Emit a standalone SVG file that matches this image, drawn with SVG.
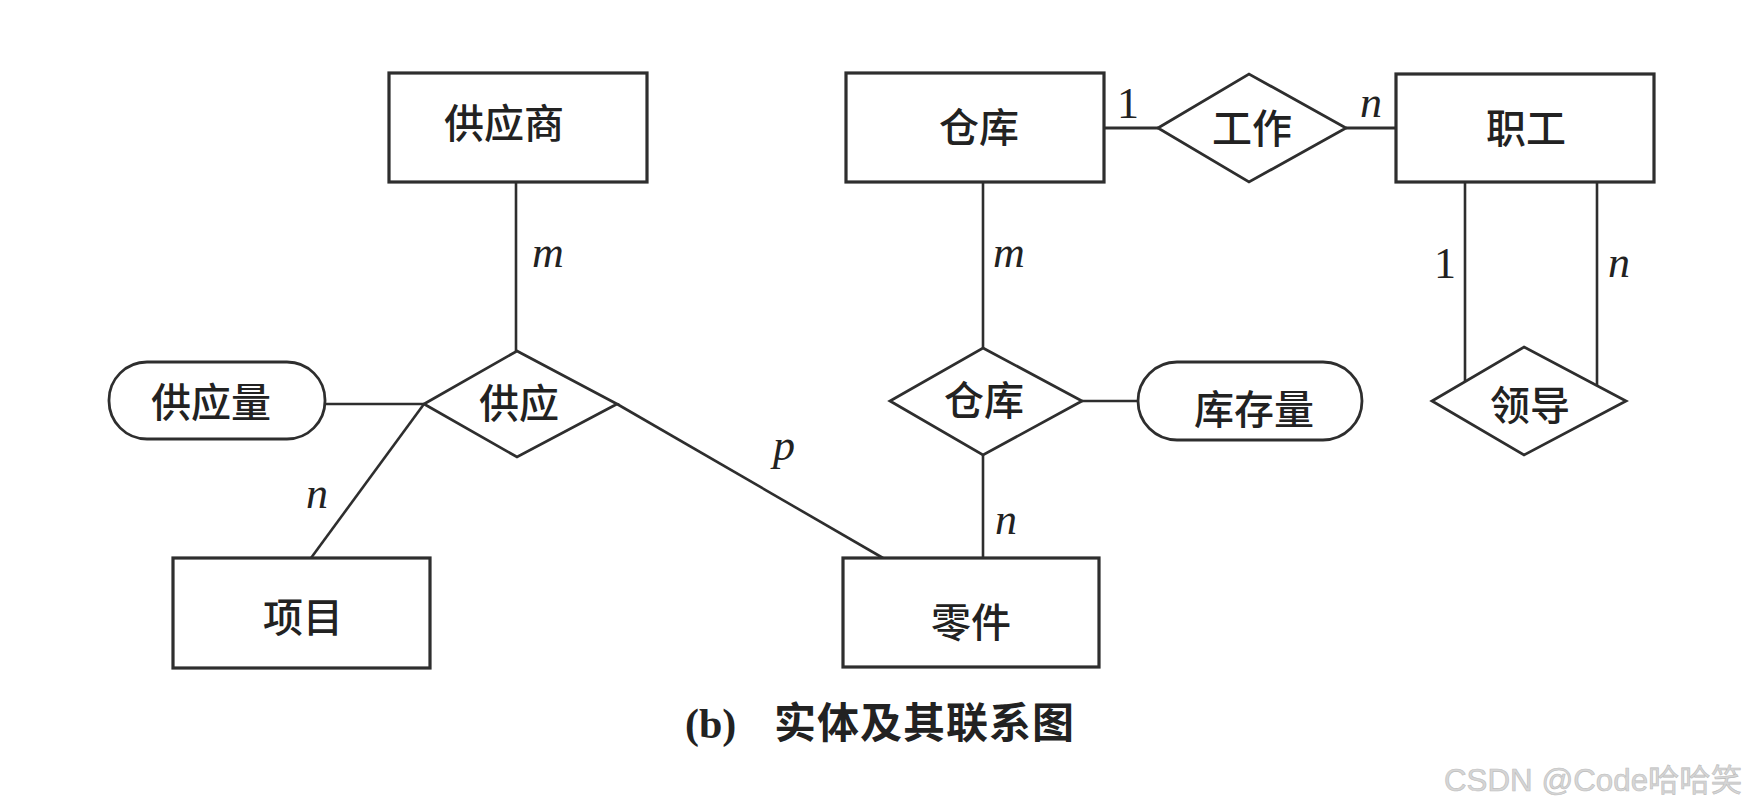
<svg xmlns="http://www.w3.org/2000/svg" width="1746" height="810" viewBox="0 0 1746 810">
<style>
.ent{fill:#fff;stroke:#2e2e2e;stroke-width:3.2}
.rel{fill:#fff;stroke:#2e2e2e;stroke-width:2.8}
.att{fill:#fff;stroke:#2e2e2e;stroke-width:2.8}
.ln{stroke:#2e2e2e;stroke-width:2.6;fill:none}
.lbl{font-family:"Noto Sans CJK SC","Noto Sans",sans-serif;font-size:40px;font-weight:500;fill:#222;text-anchor:middle}
.card{font-family:"Liberation Serif","DejaVu Serif",serif;font-size:44px;fill:#222;text-anchor:middle}
.it{font-style:italic}
.cap{font-family:"Liberation Serif","Noto Sans CJK SC",serif;font-size:42px;font-weight:bold;fill:#222}
.wm{font-family:"Liberation Sans","Noto Sans CJK SC",sans-serif;font-size:31px;fill:#d6d6d6;stroke:#bdbdbd;stroke-width:0.6}
</style>
<rect width="1746" height="810" fill="#fff"/>
<g id="connectors">
<line class="ln" x1="516" y1="182" x2="516" y2="351"/>
<line class="ln" x1="325" y1="404" x2="424" y2="404"/>
<line class="ln" x1="424" y1="404" x2="311" y2="558"/>
<line class="ln" x1="617" y1="404" x2="883" y2="558"/>
<line class="ln" x1="983" y1="182" x2="983" y2="348"/>
<line class="ln" x1="983" y1="455" x2="983" y2="558"/>
<line class="ln" x1="1082" y1="401" x2="1138" y2="401"/>
<line class="ln" x1="1104" y1="128" x2="1158" y2="128" style="stroke-width:3.2"/>
<line class="ln" x1="1346" y1="128" x2="1396" y2="128" style="stroke-width:3.2"/>
<line class="ln" x1="1465" y1="182" x2="1465" y2="381"/>
<line class="ln" x1="1597" y1="182" x2="1597" y2="385"/>
<text class="card it" x="548" y="267">m</text>
<text class="card it" x="1009" y="267">m</text>
<text class="card" x="1128" y="118">1</text>
<text class="card it" x="1371" y="117">n</text>
<text class="card" x="1445" y="278">1</text>
<text class="card it" x="1619" y="277">n</text>
<text class="card it" x="317" y="508">n</text>
<text class="card it" x="784" y="460">p</text>
<text class="card it" x="1006" y="534">n</text>
</g>
<g id="supplier"><rect class="ent" x="389" y="73" width="258" height="109"/><text class="lbl" x="504" y="138">供应商</text></g>
<g id="warehouse"><rect class="ent" x="846" y="73" width="258" height="109"/><text class="lbl" x="979" y="142">仓库</text></g>
<g id="employee"><rect class="ent" x="1396" y="74" width="258" height="108"/><text class="lbl" x="1526" y="143">职工</text></g>
<g id="project"><rect class="ent" x="173" y="558" width="257" height="110"/><text class="lbl" x="303" y="632">项目</text></g>
<g id="part"><rect class="ent" x="843" y="558" width="256" height="109"/><text class="lbl" x="971" y="637">零件</text></g>
<g id="work"><polygon class="rel" points="1158,128 1249,74 1346,128 1249,182"/><text class="lbl" x="1252" y="143">工作</text></g>
<g id="supply"><polygon class="rel" points="517,351 617,404 517,457 424,404"/><text class="lbl" x="519" y="418">供应</text></g>
<g id="stock"><polygon class="rel" points="983,348 1082,401 983,455 890,401"/><text class="lbl" x="984" y="415">仓库</text></g>
<g id="lead"><polygon class="rel" points="1524,347 1626,401 1524,455 1432,401"/><text class="lbl" x="1530" y="420">领导</text></g>
<g id="supply-qty"><rect class="att" x="109" y="362" width="216" height="77" rx="38"/><text class="lbl" x="211" y="417">供应量</text></g>
<g id="stock-qty"><rect class="att" x="1138" y="362" width="224" height="78" rx="39"/><text class="lbl" x="1254" y="424">库存量</text></g>
<g id="caption"><text class="cap" x="685" y="738">(b)<tspan x="774" style="font-family:'Noto Sans CJK SC',sans-serif;letter-spacing:1px">实体及其联系图</tspan></text></g>
<g id="watermark"><text class="wm" x="1444" y="791" textLength="298" lengthAdjust="spacingAndGlyphs">CSDN @Code哈哈笑</text></g>
</svg>
